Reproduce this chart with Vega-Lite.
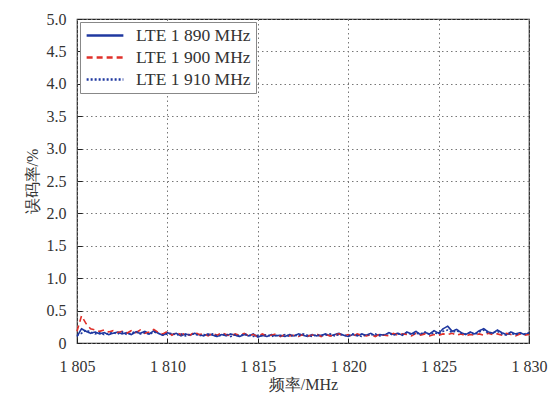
{
  "$schema": "https://vega.github.io/schema/vega-lite/v6.json",
  "width": 452,
  "height": 324,
  "autosize": "none",
  "padding": {"left": 77, "top": 19, "right": 19, "bottom": 61},
  "background": "white",
  "config": {
    "font": "Liberation Serif",
    "view": {"stroke": "#222", "strokeWidth": 1.2},
    "axis": {"labelFont": "Liberation Serif", "labelFontSize": 16, "labelColor": "#333", "titleFont": "Liberation Serif", "titleFontSize": 16, "titleFontWeight": "normal", "titleColor": "#333", "domain": false, "ticks": true, "tickSize": -5, "tickColor": "#222", "labelFlush": false, "gridColor": "#777", "gridDash": [1.5, 3], "gridWidth": 1, "gridOpacity": 1}
  },
  "data": {"values": [
    {"f":1805.00,"a":0.10,"b":0.18,"c":0.12},
    {"f":1805.25,"a":0.22,"b":0.42,"c":0.15},
    {"f":1805.50,"a":0.18,"b":0.30,"c":0.20},
    {"f":1805.75,"a":0.15,"b":0.22,"c":0.17},
    {"f":1806.00,"a":0.17,"b":0.20,"c":0.14},
    {"f":1806.25,"a":0.14,"b":0.18,"c":0.16},
    {"f":1806.50,"a":0.16,"b":0.20,"c":0.13},
    {"f":1806.75,"a":0.13,"b":0.17,"c":0.15},
    {"f":1807.00,"a":0.15,"b":0.19,"c":0.16},
    {"f":1807.25,"a":0.17,"b":0.16,"c":0.14},
    {"f":1807.50,"a":0.14,"b":0.18,"c":0.17},
    {"f":1807.75,"a":0.16,"b":0.15,"c":0.13},
    {"f":1808.00,"a":0.13,"b":0.19,"c":0.15},
    {"f":1808.25,"a":0.17,"b":0.16,"c":0.18},
    {"f":1808.50,"a":0.15,"b":0.20,"c":0.14},
    {"f":1808.75,"a":0.18,"b":0.15,"c":0.16},
    {"f":1809.00,"a":0.14,"b":0.17,"c":0.13},
    {"f":1809.25,"a":0.19,"b":0.21,"c":0.17},
    {"f":1809.50,"a":0.15,"b":0.16,"c":0.15},
    {"f":1809.75,"a":0.12,"b":0.14,"c":0.12},
    {"f":1810.00,"a":0.16,"b":0.18,"c":0.14},
    {"f":1810.25,"a":0.13,"b":0.12,"c":0.15},
    {"f":1810.50,"a":0.15,"b":0.16,"c":0.12},
    {"f":1810.75,"a":0.11,"b":0.13,"c":0.14},
    {"f":1811.00,"a":0.14,"b":0.15,"c":0.11},
    {"f":1811.25,"a":0.12,"b":0.12,"c":0.13},
    {"f":1811.50,"a":0.15,"b":0.17,"c":0.14},
    {"f":1811.75,"a":0.13,"b":0.13,"c":0.11},
    {"f":1812.00,"a":0.11,"b":0.14,"c":0.13},
    {"f":1812.25,"a":0.14,"b":0.11,"c":0.12},
    {"f":1812.50,"a":0.12,"b":0.15,"c":0.14},
    {"f":1812.75,"a":0.10,"b":0.12,"c":0.11},
    {"f":1813.00,"a":0.13,"b":0.16,"c":0.12},
    {"f":1813.25,"a":0.11,"b":0.13,"c":0.14},
    {"f":1813.50,"a":0.14,"b":0.11,"c":0.10},
    {"f":1813.75,"a":0.12,"b":0.14,"c":0.13},
    {"f":1814.00,"a":0.10,"b":0.12,"c":0.11},
    {"f":1814.25,"a":0.13,"b":0.15,"c":0.14},
    {"f":1814.50,"a":0.11,"b":0.11,"c":0.12},
    {"f":1814.75,"a":0.14,"b":0.13,"c":0.10},
    {"f":1815.00,"a":0.09,"b":0.10,"c":0.12},
    {"f":1815.25,"a":0.12,"b":0.14,"c":0.11},
    {"f":1815.50,"a":0.10,"b":0.11,"c":0.13},
    {"f":1815.75,"a":0.13,"b":0.12,"c":0.10},
    {"f":1816.00,"a":0.11,"b":0.14,"c":0.12},
    {"f":1816.25,"a":0.12,"b":0.10,"c":0.11},
    {"f":1816.50,"a":0.10,"b":0.13,"c":0.13},
    {"f":1816.75,"a":0.13,"b":0.11,"c":0.10},
    {"f":1817.00,"a":0.11,"b":0.12,"c":0.12},
    {"f":1817.25,"a":0.14,"b":0.10,"c":0.11},
    {"f":1817.50,"a":0.12,"b":0.13,"c":0.14},
    {"f":1817.75,"a":0.10,"b":0.11,"c":0.12},
    {"f":1818.00,"a":0.13,"b":0.12,"c":0.10},
    {"f":1818.25,"a":0.11,"b":0.14,"c":0.13},
    {"f":1818.50,"a":0.12,"b":0.10,"c":0.11},
    {"f":1818.75,"a":0.14,"b":0.13,"c":0.12},
    {"f":1819.00,"a":0.11,"b":0.11,"c":0.14},
    {"f":1819.25,"a":0.13,"b":0.12,"c":0.11},
    {"f":1819.50,"a":0.15,"b":0.14,"c":0.13},
    {"f":1819.75,"a":0.12,"b":0.11,"c":0.12},
    {"f":1820.00,"a":0.10,"b":0.13,"c":0.11},
    {"f":1820.25,"a":0.13,"b":0.10,"c":0.14},
    {"f":1820.50,"a":0.11,"b":0.14,"c":0.12},
    {"f":1820.75,"a":0.14,"b":0.12,"c":0.10},
    {"f":1821.00,"a":0.12,"b":0.11,"c":0.13},
    {"f":1821.25,"a":0.15,"b":0.13,"c":0.12},
    {"f":1821.50,"a":0.11,"b":0.10,"c":0.14},
    {"f":1821.75,"a":0.13,"b":0.14,"c":0.11},
    {"f":1822.00,"a":0.12,"b":0.12,"c":0.13},
    {"f":1822.25,"a":0.16,"b":0.11,"c":0.15},
    {"f":1822.50,"a":0.13,"b":0.15,"c":0.12},
    {"f":1822.75,"a":0.15,"b":0.12,"c":0.14},
    {"f":1823.00,"a":0.12,"b":0.14,"c":0.13},
    {"f":1823.25,"a":0.17,"b":0.13,"c":0.16},
    {"f":1823.50,"a":0.14,"b":0.11,"c":0.13},
    {"f":1823.75,"a":0.18,"b":0.15,"c":0.15},
    {"f":1824.00,"a":0.13,"b":0.12,"c":0.14},
    {"f":1824.25,"a":0.16,"b":0.14,"c":0.17},
    {"f":1824.50,"a":0.14,"b":0.11,"c":0.13},
    {"f":1824.75,"a":0.19,"b":0.13,"c":0.16},
    {"f":1825.00,"a":0.15,"b":0.12,"c":0.14},
    {"f":1825.25,"a":0.22,"b":0.14,"c":0.18},
    {"f":1825.50,"a":0.26,"b":0.13,"c":0.20},
    {"f":1825.75,"a":0.18,"b":0.15,"c":0.16},
    {"f":1826.00,"a":0.21,"b":0.12,"c":0.19},
    {"f":1826.25,"a":0.16,"b":0.14,"c":0.15},
    {"f":1826.50,"a":0.13,"b":0.11,"c":0.14},
    {"f":1826.75,"a":0.17,"b":0.13,"c":0.16},
    {"f":1827.00,"a":0.14,"b":0.12,"c":0.13},
    {"f":1827.25,"a":0.19,"b":0.14,"c":0.17},
    {"f":1827.50,"a":0.22,"b":0.12,"c":0.20},
    {"f":1827.75,"a":0.17,"b":0.15,"c":0.15},
    {"f":1828.00,"a":0.15,"b":0.13,"c":0.16},
    {"f":1828.25,"a":0.20,"b":0.14,"c":0.18},
    {"f":1828.50,"a":0.16,"b":0.12,"c":0.14},
    {"f":1828.75,"a":0.13,"b":0.15,"c":0.12},
    {"f":1829.00,"a":0.17,"b":0.13,"c":0.15},
    {"f":1829.25,"a":0.14,"b":0.11,"c":0.13},
    {"f":1829.50,"a":0.16,"b":0.14,"c":0.15},
    {"f":1829.75,"a":0.13,"b":0.12,"c":0.14},
    {"f":1830.00,"a":0.15,"b":0.13,"c":0.16}
  ]},
  "transform": [{"fold": ["a", "b", "c"], "as": ["s", "v"]}],
  "mark": {"type": "line", "strokeWidth": 1.6},
  "encoding": {
    "x": {"field": "f", "type": "quantitative", "scale": {"domain": [1805, 1830], "nice": false, "zero": false},
      "axis": {"values": [1805, 1810, 1815, 1820, 1825, 1830], "labelExpr": "'1 ' + substring(toString(datum.value), 1)", "title": "频率/MHz", "labelPadding": 20, "titlePadding": 2}},
    "y": {"field": "v", "type": "quantitative", "scale": {"domain": [0, 5], "nice": false},
      "axis": {"values": [0, 0.5, 1, 1.5, 2, 2.5, 3, 3.5, 4, 4.5, 5], "labelExpr": "datum.value == 0 ? '0' : format(datum.value, '.1f')", "title": "误码率/%", "labelPadding": 16, "titlePadding": 6}},
    "color": {"field": "s", "type": "nominal", "scale": {"domain": ["a", "b", "c"], "range": ["#1f38a0", "#e0302a", "#1f38a0"]},
      "legend": {"title": null, "orient": "top-left", "offset": 3, "labelExpr": "datum.label == 'a' ? 'LTE 1 890 MHz' : datum.label == 'b' ? 'LTE 1 900 MHz' : 'LTE 1 910 MHz'", "labelFont": "Liberation Serif", "labelFontSize": 17.5, "labelColor": "#333", "symbolType": "stroke", "symbolSize": 1350, "symbolStrokeWidth": 2.5, "clipHeight": 17, "strokeColor": "#888", "fillColor": "white", "padding": 5, "rowPadding": 4, "labelOffset": 11}},
    "strokeDash": {"field": "s", "type": "nominal", "scale": {"domain": ["a", "b", "c"], "range": [[1, 0], [6, 4], [2, 2]]}, "legend": {"title": null}}
  }
}
